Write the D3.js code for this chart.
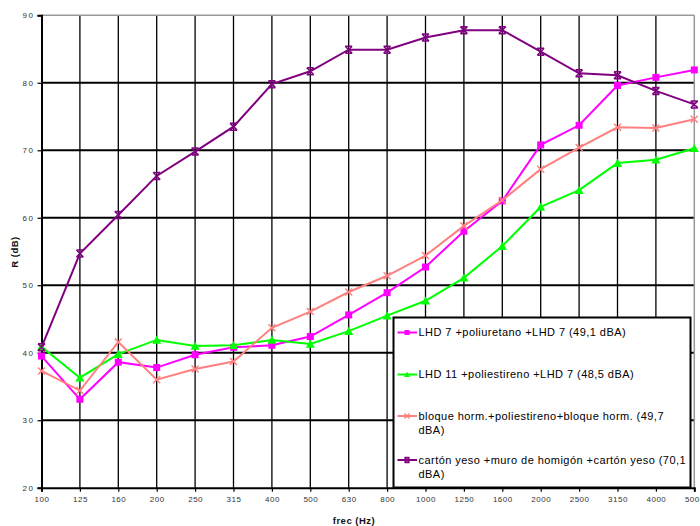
<!DOCTYPE html>
<html><head><meta charset="utf-8">
<script src="https://cdn.jsdelivr.net/npm/d3@7"></script>
<style>
html,body{margin:0;padding:0;background:#fff;}
svg{display:block;font-family:"Liberation Sans",Arial,sans-serif;}
</style></head>
<body><svg id="c" width="700" height="526"></svg>
<script>
const categories = ["100","125","160","200","250","315","400","500","630","800","1000","1250","1600","2000","2500","3150","4000","5000"];
const lhd7 = [39.5,33.1,38.6,37.8,39.7,40.8,41.1,42.4,45.6,48.9,52.7,58.0,62.5,70.8,73.7,79.6,80.8,81.9];
const lhd11 = [40.9,36.3,39.8,41.9,41.0,41.1,41.9,41.3,43.2,45.5,47.7,51.1,55.8,61.6,64.1,68.1,68.6,70.3];
const bloque = [37.3,34.4,41.6,36.0,37.6,38.7,43.7,46.1,49.0,51.4,54.4,58.8,62.6,67.2,70.4,73.4,73.3,74.6];
const carton = [40.8,54.7,60.4,66.2,69.8,73.5,79.8,81.7,84.9,84.9,86.7,87.8,87.8,84.6,81.4,81.1,78.8,76.8];
const yTicks = [20,30,40,50,60,70,80,90];
const seriesNames = ["LHD 7 +poliuretano +LHD 7 (49,1 dBA)","LHD 11 +poliestireno +LHD 7 (48,5 dBA)","bloque horm.+poliestireno+bloque horm. (49,7 dBA)","cartón yeso +muro de homigón +cartón yeso (70,1 dBA)"];
const seriesColors = ["#ff00ff","#00ff00","#ff8080","#800080"];
const seriesMarkers = ["square","triangle","x","star"];
const seriesData = [lhd7,lhd11,bloque,carton];

const svg = d3.select("#c");
const L=41.5, R=694.3, T=15.3, B=487.7;
const x = d3.scalePoint().domain(categories).range([L,R]);
const y = d3.scaleLinear().domain([20,90]).range([B,T]);

// gridlines
const g = svg.append("g");
g.selectAll("line.v").data(categories.slice(1,-1)).join("line")
  .attr("x1",d=>x(d)).attr("x2",d=>x(d)).attr("y1",T).attr("y2",B)
  .attr("stroke","#000").attr("stroke-width",1.3);
g.selectAll("line.h").data(yTicks.slice(1,-1)).join("line")
  .attr("x1",L).attr("x2",R).attr("y1",d=>y(d)).attr("y2",d=>y(d))
  .attr("stroke","#000").attr("stroke-width",2);
// frame top/right gray
g.append("line").attr("x1",L).attr("x2",R).attr("y1",T).attr("y2",T).attr("stroke","#999").attr("stroke-width",1.5);
g.append("line").attr("x1",R).attr("x2",R).attr("y1",T).attr("y2",B).attr("stroke","#999").attr("stroke-width",1.5);

// axes
const yAxis = d3.axisLeft(y).tickValues(yTicks).tickSize(4).tickPadding(3).tickFormat(d=>d);
const ya = svg.append("g").attr("transform",`translate(${L},0)`).call(yAxis);
ya.select(".domain").attr("stroke","#000").attr("stroke-width",2);
ya.selectAll(".tick line").attr("stroke","#000").attr("stroke-width",1.2);
ya.selectAll(".tick text").attr("font-size",8).attr("fill","#333").attr("letter-spacing","1.5px").attr("font-family","Liberation Sans, Arial, sans-serif");

const xAxis = d3.axisBottom(x).tickSize(4).tickPadding(5);
const xa = svg.append("g").attr("transform",`translate(0,${B})`).call(xAxis);
xa.select(".domain").attr("stroke","#000").attr("stroke-width",2);
xa.selectAll(".tick line").attr("stroke","#000").attr("stroke-width",1.2);
xa.selectAll(".tick text").attr("font-size",8).attr("fill","#333").attr("letter-spacing","0.5px").attr("font-family","Liberation Sans, Arial, sans-serif");

svg.append("text").attr("x",354).attr("y",524).attr("text-anchor","middle")
  .attr("font-size",9.5).attr("font-weight","bold").attr("letter-spacing","0.5px").attr("fill","#111").text("frec (Hz)");
svg.append("text").attr("transform","translate(18,252) rotate(-90)").attr("text-anchor","middle")
  .attr("font-size",9.5).attr("font-weight","bold").attr("letter-spacing","0.5px").attr("fill","#111").text("R (dB)");

function marker(sel, type, color, s){
  if(type==="square"){
    sel.append("rect").attr("x",-s/2).attr("y",-s/2).attr("width",s).attr("height",s).attr("fill",color);
  } else if(type==="triangle"){
    const h=s*0.95;
    sel.append("path").attr("d",`M0,${-h/2-0.5}L${s/2+0.5},${h/2}L${-s/2-0.5},${h/2}Z`).attr("fill",color);
  } else if(type==="x"){
    const r=s/2;
    sel.append("path").attr("d",`M${-r},${-r}L${r},${r}M${-r},${r}L${r},${-r}`).attr("stroke",color).attr("stroke-width",1.5);
  } else {
    const r=s/2;
    sel.append("path").attr("d",`M${-r},${-r}L${r},${r}M${-r},${r}L${r},${-r}M${-r},${-r}L${r},${-r}M${-r},${r}L${r},${r}`).attr("stroke",color).attr("stroke-width",1.5);
  }
}

const line = d3.line().x((d,i)=>x(categories[i])).y(d=>y(d));
seriesData.forEach((data,k)=>{
  const sg = svg.append("g");
  sg.append("path").attr("d",line(data)).attr("fill","none").attr("stroke",seriesColors[k]).attr("stroke-width",2);
  data.forEach((v,i)=>{
    const m = sg.append("g").attr("transform",`translate(${x(categories[i])},${y(v)})`);
    marker(m, seriesMarkers[k], seriesColors[k], seriesMarkers[k]==="square"?7:(seriesMarkers[k]==="triangle"?8:7));
  });
});

// legend
const lx=393.5, ly=317.5, lw=297, lh=170;
const lg = svg.append("g");
lg.append("rect").attr("x",lx).attr("y",ly).attr("width",lw).attr("height",lh).attr("fill","#fff").attr("stroke","#000").attr("stroke-width",2);
const entryY = [332.5,374.5,416,460];
const textLines = [["LHD 7 +poliuretano +LHD 7 (49,1 dBA)"],["LHD 11 +poliestireno +LHD 7 (48,5 dBA)"],["bloque horm.+poliestireno+bloque horm. (49,7","dBA)"],["cartón yeso +muro de homigón +cartón yeso (70,1","dBA)"]];
seriesNames.forEach((n,k)=>{
  const ey = entryY[k];
  lg.append("line").attr("x1",397.5).attr("x2",417).attr("y1",ey).attr("y2",ey).attr("stroke",seriesColors[k]).attr("stroke-width",2);
  const m = lg.append("g").attr("transform",`translate(407,${ey})`);
  marker(m, seriesMarkers[k], seriesColors[k], 5);
  const t = lg.append("text").attr("x",418.5).attr("y",ey+3.8).attr("font-size",11).attr("letter-spacing","0.45px").attr("fill","#000");
  textLines[k].forEach((s,j)=>{
    t.append("tspan").attr("x",418.5).attr("dy",j===0?0:14).text(s);
  });
});
</script></body></html>
